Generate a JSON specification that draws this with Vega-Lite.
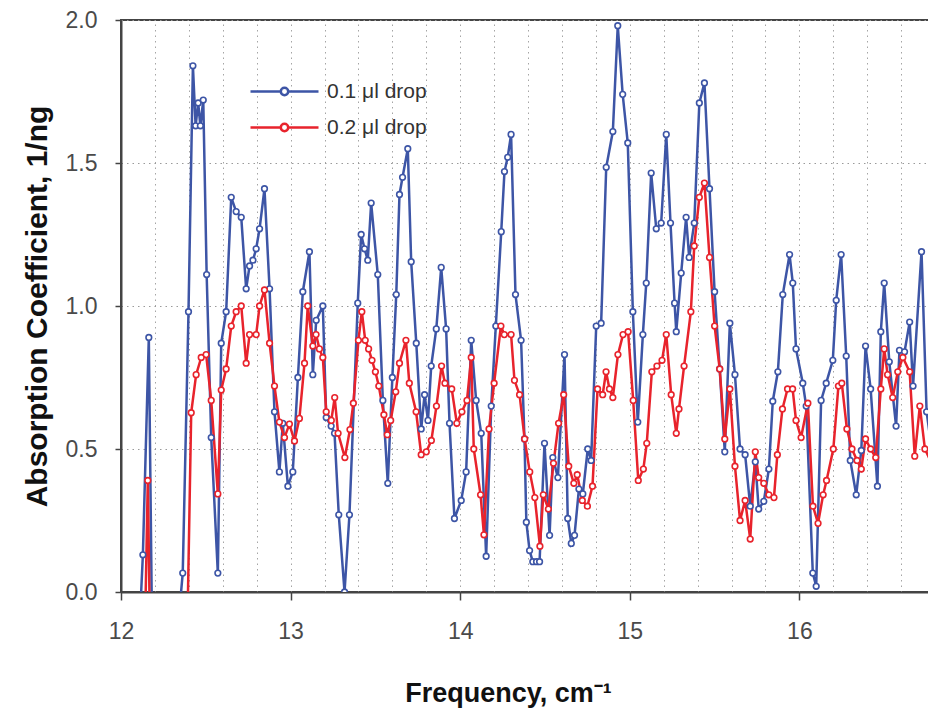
{
  "$schema": "https://vega.github.io/schema/vega-lite/v6.json",
  "width": 809,
  "height": 572,
  "autosize": {"type": "none"},
  "padding": {"left": 121, "top": 20, "right": 0, "bottom": 123},
  "background": "white",
  "config": {
    "view": {"stroke": "#444", "strokeWidth": 2},
    "font": "Liberation Sans, Arial, sans-serif"
  },
  "datasets": {
    "spec": [
      {"f": 12.08, "v": -0.5, "s": "0.1 μl drop"},
      {"f": 12.129, "v": 0.13, "s": "0.1 μl drop"},
      {"f": 12.164, "v": 0.89, "s": "0.1 μl drop"},
      {"f": 12.19, "v": -0.5, "s": "0.1 μl drop"},
      {"f": 12.28, "v": -0.5, "s": "0.1 μl drop"},
      {"f": 12.364, "v": 0.066, "s": "0.1 μl drop"},
      {"f": 12.398, "v": 0.98, "s": "0.1 μl drop"},
      {"f": 12.424, "v": 1.84, "s": "0.1 μl drop"},
      {"f": 12.44, "v": 1.63, "s": "0.1 μl drop"},
      {"f": 12.455, "v": 1.71, "s": "0.1 μl drop"},
      {"f": 12.468, "v": 1.63, "s": "0.1 μl drop"},
      {"f": 12.485, "v": 1.72, "s": "0.1 μl drop"},
      {"f": 12.505, "v": 1.11, "s": "0.1 μl drop"},
      {"f": 12.532, "v": 0.54, "s": "0.1 μl drop"},
      {"f": 12.571, "v": 0.066, "s": "0.1 μl drop"},
      {"f": 12.591, "v": 0.87, "s": "0.1 μl drop"},
      {"f": 12.62, "v": 0.98, "s": "0.1 μl drop"},
      {"f": 12.65, "v": 1.38, "s": "0.1 μl drop"},
      {"f": 12.679, "v": 1.33, "s": "0.1 μl drop"},
      {"f": 12.709, "v": 1.31, "s": "0.1 μl drop"},
      {"f": 12.738, "v": 1.06, "s": "0.1 μl drop"},
      {"f": 12.758, "v": 1.14, "s": "0.1 μl drop"},
      {"f": 12.778, "v": 1.16, "s": "0.1 μl drop"},
      {"f": 12.797, "v": 1.2, "s": "0.1 μl drop"},
      {"f": 12.817, "v": 1.27, "s": "0.1 μl drop"},
      {"f": 12.846, "v": 1.41, "s": "0.1 μl drop"},
      {"f": 12.876, "v": 1.06, "s": "0.1 μl drop"},
      {"f": 12.905, "v": 0.63, "s": "0.1 μl drop"},
      {"f": 12.934, "v": 0.42, "s": "0.1 μl drop"},
      {"f": 12.954, "v": 0.59, "s": "0.1 μl drop"},
      {"f": 12.984, "v": 0.37, "s": "0.1 μl drop"},
      {"f": 13.013, "v": 0.42, "s": "0.1 μl drop"},
      {"f": 13.043, "v": 0.75, "s": "0.1 μl drop"},
      {"f": 13.072, "v": 1.05, "s": "0.1 μl drop"},
      {"f": 13.111, "v": 1.19, "s": "0.1 μl drop"},
      {"f": 13.131, "v": 0.76, "s": "0.1 μl drop"},
      {"f": 13.151, "v": 0.95, "s": "0.1 μl drop"},
      {"f": 13.19, "v": 1.0, "s": "0.1 μl drop"},
      {"f": 13.21, "v": 0.61, "s": "0.1 μl drop"},
      {"f": 13.239, "v": 0.58, "s": "0.1 μl drop"},
      {"f": 13.259, "v": 0.555, "s": "0.1 μl drop"},
      {"f": 13.284, "v": 0.27, "s": "0.1 μl drop"},
      {"f": 13.318, "v": 0.0, "s": "0.1 μl drop"},
      {"f": 13.347, "v": 0.27, "s": "0.1 μl drop"},
      {"f": 13.396, "v": 1.01, "s": "0.1 μl drop"},
      {"f": 13.416, "v": 1.25, "s": "0.1 μl drop"},
      {"f": 13.436, "v": 1.2, "s": "0.1 μl drop"},
      {"f": 13.455, "v": 1.16, "s": "0.1 μl drop"},
      {"f": 13.475, "v": 1.36, "s": "0.1 μl drop"},
      {"f": 13.514, "v": 1.11, "s": "0.1 μl drop"},
      {"f": 13.544, "v": 0.67, "s": "0.1 μl drop"},
      {"f": 13.573, "v": 0.38, "s": "0.1 μl drop"},
      {"f": 13.6, "v": 0.75, "s": "0.1 μl drop"},
      {"f": 13.623, "v": 1.04, "s": "0.1 μl drop"},
      {"f": 13.642, "v": 1.39, "s": "0.1 μl drop"},
      {"f": 13.66, "v": 1.45, "s": "0.1 μl drop"},
      {"f": 13.691, "v": 1.55, "s": "0.1 μl drop"},
      {"f": 13.711, "v": 1.155, "s": "0.1 μl drop"},
      {"f": 13.741, "v": 0.87, "s": "0.1 μl drop"},
      {"f": 13.77, "v": 0.57, "s": "0.1 μl drop"},
      {"f": 13.79, "v": 0.69, "s": "0.1 μl drop"},
      {"f": 13.81, "v": 0.6, "s": "0.1 μl drop"},
      {"f": 13.829, "v": 0.79, "s": "0.1 μl drop"},
      {"f": 13.859, "v": 0.92, "s": "0.1 μl drop"},
      {"f": 13.888, "v": 1.135, "s": "0.1 μl drop"},
      {"f": 13.917, "v": 0.92, "s": "0.1 μl drop"},
      {"f": 13.937, "v": 0.59, "s": "0.1 μl drop"},
      {"f": 13.966, "v": 0.257, "s": "0.1 μl drop"},
      {"f": 14.006, "v": 0.32, "s": "0.1 μl drop"},
      {"f": 14.035, "v": 0.42, "s": "0.1 μl drop"},
      {"f": 14.065, "v": 0.88, "s": "0.1 μl drop"},
      {"f": 14.094, "v": 0.67, "s": "0.1 μl drop"},
      {"f": 14.124, "v": 0.555, "s": "0.1 μl drop"},
      {"f": 14.153, "v": 0.125, "s": "0.1 μl drop"},
      {"f": 14.183, "v": 0.65, "s": "0.1 μl drop"},
      {"f": 14.21, "v": 0.93, "s": "0.1 μl drop"},
      {"f": 14.242, "v": 1.26, "s": "0.1 μl drop"},
      {"f": 14.261, "v": 1.47, "s": "0.1 μl drop"},
      {"f": 14.28, "v": 1.52, "s": "0.1 μl drop"},
      {"f": 14.3, "v": 1.6, "s": "0.1 μl drop"},
      {"f": 14.326, "v": 1.04, "s": "0.1 μl drop"},
      {"f": 14.359, "v": 0.88, "s": "0.1 μl drop"},
      {"f": 14.379, "v": 0.535, "s": "0.1 μl drop"},
      {"f": 14.39, "v": 0.244, "s": "0.1 μl drop"},
      {"f": 14.409, "v": 0.145, "s": "0.1 μl drop"},
      {"f": 14.428, "v": 0.106, "s": "0.1 μl drop"},
      {"f": 14.45, "v": 0.106, "s": "0.1 μl drop"},
      {"f": 14.468, "v": 0.106, "s": "0.1 μl drop"},
      {"f": 14.497, "v": 0.52, "s": "0.1 μl drop"},
      {"f": 14.527, "v": 0.198, "s": "0.1 μl drop"},
      {"f": 14.546, "v": 0.47, "s": "0.1 μl drop"},
      {"f": 14.576, "v": 0.4, "s": "0.1 μl drop"},
      {"f": 14.615, "v": 0.83, "s": "0.1 μl drop"},
      {"f": 14.634, "v": 0.257, "s": "0.1 μl drop"},
      {"f": 14.655, "v": 0.17, "s": "0.1 μl drop"},
      {"f": 14.674, "v": 0.198, "s": "0.1 μl drop"},
      {"f": 14.7, "v": 0.36, "s": "0.1 μl drop"},
      {"f": 14.723, "v": 0.343, "s": "0.1 μl drop"},
      {"f": 14.752, "v": 0.5, "s": "0.1 μl drop"},
      {"f": 14.772, "v": 0.46, "s": "0.1 μl drop"},
      {"f": 14.802, "v": 0.93, "s": "0.1 μl drop"},
      {"f": 14.831, "v": 0.94, "s": "0.1 μl drop"},
      {"f": 14.861, "v": 1.485, "s": "0.1 μl drop"},
      {"f": 14.9, "v": 1.61, "s": "0.1 μl drop"},
      {"f": 14.929, "v": 1.98, "s": "0.1 μl drop"},
      {"f": 14.958, "v": 1.74, "s": "0.1 μl drop"},
      {"f": 14.988, "v": 1.57, "s": "0.1 μl drop"},
      {"f": 15.018, "v": 0.98, "s": "0.1 μl drop"},
      {"f": 15.047, "v": 0.594, "s": "0.1 μl drop"},
      {"f": 15.077, "v": 0.9, "s": "0.1 μl drop"},
      {"f": 15.097, "v": 1.08, "s": "0.1 μl drop"},
      {"f": 15.126, "v": 1.465, "s": "0.1 μl drop"},
      {"f": 15.156, "v": 1.27, "s": "0.1 μl drop"},
      {"f": 15.185, "v": 1.29, "s": "0.1 μl drop"},
      {"f": 15.215, "v": 1.6, "s": "0.1 μl drop"},
      {"f": 15.24, "v": 1.29, "s": "0.1 μl drop"},
      {"f": 15.264, "v": 1.01, "s": "0.1 μl drop"},
      {"f": 15.274, "v": 0.91, "s": "0.1 μl drop"},
      {"f": 15.303, "v": 1.115, "s": "0.1 μl drop"},
      {"f": 15.332, "v": 1.31, "s": "0.1 μl drop"},
      {"f": 15.35, "v": 1.17, "s": "0.1 μl drop"},
      {"f": 15.38, "v": 1.29, "s": "0.1 μl drop"},
      {"f": 15.41, "v": 1.71, "s": "0.1 μl drop"},
      {"f": 15.44, "v": 1.78, "s": "0.1 μl drop"},
      {"f": 15.47, "v": 1.41, "s": "0.1 μl drop"},
      {"f": 15.5, "v": 1.05, "s": "0.1 μl drop"},
      {"f": 15.53, "v": 0.78, "s": "0.1 μl drop"},
      {"f": 15.56, "v": 0.49, "s": "0.1 μl drop"},
      {"f": 15.59, "v": 0.94, "s": "0.1 μl drop"},
      {"f": 15.62, "v": 0.76, "s": "0.1 μl drop"},
      {"f": 15.65, "v": 0.5, "s": "0.1 μl drop"},
      {"f": 15.68, "v": 0.48, "s": "0.1 μl drop"},
      {"f": 15.71, "v": 0.3, "s": "0.1 μl drop"},
      {"f": 15.74, "v": 0.455, "s": "0.1 μl drop"},
      {"f": 15.76, "v": 0.29, "s": "0.1 μl drop"},
      {"f": 15.79, "v": 0.317, "s": "0.1 μl drop"},
      {"f": 15.82, "v": 0.43, "s": "0.1 μl drop"},
      {"f": 15.843, "v": 0.667, "s": "0.1 μl drop"},
      {"f": 15.873, "v": 0.77, "s": "0.1 μl drop"},
      {"f": 15.902, "v": 1.04, "s": "0.1 μl drop"},
      {"f": 15.942, "v": 1.18, "s": "0.1 μl drop"},
      {"f": 15.961, "v": 1.08, "s": "0.1 μl drop"},
      {"f": 15.98, "v": 0.85, "s": "0.1 μl drop"},
      {"f": 16.02, "v": 0.73, "s": "0.1 μl drop"},
      {"f": 16.04, "v": 0.65, "s": "0.1 μl drop"},
      {"f": 16.079, "v": 0.066, "s": "0.1 μl drop"},
      {"f": 16.099, "v": 0.02, "s": "0.1 μl drop"},
      {"f": 16.128, "v": 0.67, "s": "0.1 μl drop"},
      {"f": 16.158, "v": 0.73, "s": "0.1 μl drop"},
      {"f": 16.197, "v": 0.81, "s": "0.1 μl drop"},
      {"f": 16.217, "v": 1.02, "s": "0.1 μl drop"},
      {"f": 16.246, "v": 1.18, "s": "0.1 μl drop"},
      {"f": 16.276, "v": 0.825, "s": "0.1 μl drop"},
      {"f": 16.3, "v": 0.46, "s": "0.1 μl drop"},
      {"f": 16.335, "v": 0.34, "s": "0.1 μl drop"},
      {"f": 16.365, "v": 0.495, "s": "0.1 μl drop"},
      {"f": 16.39, "v": 0.86, "s": "0.1 μl drop"},
      {"f": 16.42, "v": 0.71, "s": "0.1 μl drop"},
      {"f": 16.46, "v": 0.37, "s": "0.1 μl drop"},
      {"f": 16.48, "v": 0.91, "s": "0.1 μl drop"},
      {"f": 16.5, "v": 1.08, "s": "0.1 μl drop"},
      {"f": 16.53, "v": 0.805, "s": "0.1 μl drop"},
      {"f": 16.57, "v": 0.58, "s": "0.1 μl drop"},
      {"f": 16.59, "v": 0.845, "s": "0.1 μl drop"},
      {"f": 16.62, "v": 0.84, "s": "0.1 μl drop"},
      {"f": 16.65, "v": 0.944, "s": "0.1 μl drop"},
      {"f": 16.67, "v": 0.72, "s": "0.1 μl drop"},
      {"f": 16.72, "v": 1.19, "s": "0.1 μl drop"},
      {"f": 16.75, "v": 0.63, "s": "0.1 μl drop"},
      {"f": 16.78, "v": 0.5, "s": "0.1 μl drop"},

      {"f": 12.13, "v": -0.5, "s": "0.2 μl drop"},
      {"f": 12.158, "v": 0.39, "s": "0.2 μl drop"},
      {"f": 12.18, "v": -0.5, "s": "0.2 μl drop"},
      {"f": 12.38, "v": -0.5, "s": "0.2 μl drop"},
      {"f": 12.414, "v": 0.627, "s": "0.2 μl drop"},
      {"f": 12.443, "v": 0.76, "s": "0.2 μl drop"},
      {"f": 12.473, "v": 0.82, "s": "0.2 μl drop"},
      {"f": 12.502, "v": 0.83, "s": "0.2 μl drop"},
      {"f": 12.532, "v": 0.67, "s": "0.2 μl drop"},
      {"f": 12.571, "v": 0.343, "s": "0.2 μl drop"},
      {"f": 12.591, "v": 0.706, "s": "0.2 μl drop"},
      {"f": 12.62, "v": 0.78, "s": "0.2 μl drop"},
      {"f": 12.65, "v": 0.93, "s": "0.2 μl drop"},
      {"f": 12.679, "v": 0.98, "s": "0.2 μl drop"},
      {"f": 12.709, "v": 1.0, "s": "0.2 μl drop"},
      {"f": 12.738, "v": 0.8, "s": "0.2 μl drop"},
      {"f": 12.758, "v": 0.9, "s": "0.2 μl drop"},
      {"f": 12.797, "v": 0.9, "s": "0.2 μl drop"},
      {"f": 12.817, "v": 1.0, "s": "0.2 μl drop"},
      {"f": 12.846, "v": 1.056, "s": "0.2 μl drop"},
      {"f": 12.876, "v": 0.87, "s": "0.2 μl drop"},
      {"f": 12.905, "v": 0.72, "s": "0.2 μl drop"},
      {"f": 12.934, "v": 0.594, "s": "0.2 μl drop"},
      {"f": 12.964, "v": 0.54, "s": "0.2 μl drop"},
      {"f": 12.993, "v": 0.587, "s": "0.2 μl drop"},
      {"f": 13.023, "v": 0.528, "s": "0.2 μl drop"},
      {"f": 13.052, "v": 0.607, "s": "0.2 μl drop"},
      {"f": 13.082, "v": 0.8, "s": "0.2 μl drop"},
      {"f": 13.101, "v": 1.0, "s": "0.2 μl drop"},
      {"f": 13.131, "v": 0.86, "s": "0.2 μl drop"},
      {"f": 13.15, "v": 0.9, "s": "0.2 μl drop"},
      {"f": 13.17, "v": 0.85, "s": "0.2 μl drop"},
      {"f": 13.19, "v": 0.82, "s": "0.2 μl drop"},
      {"f": 13.21, "v": 0.63, "s": "0.2 μl drop"},
      {"f": 13.24, "v": 0.6, "s": "0.2 μl drop"},
      {"f": 13.26, "v": 0.68, "s": "0.2 μl drop"},
      {"f": 13.28, "v": 0.555, "s": "0.2 μl drop"},
      {"f": 13.32, "v": 0.47, "s": "0.2 μl drop"},
      {"f": 13.35, "v": 0.568, "s": "0.2 μl drop"},
      {"f": 13.37, "v": 0.66, "s": "0.2 μl drop"},
      {"f": 13.4, "v": 0.88, "s": "0.2 μl drop"},
      {"f": 13.42, "v": 0.98, "s": "0.2 μl drop"},
      {"f": 13.44, "v": 0.88, "s": "0.2 μl drop"},
      {"f": 13.46, "v": 0.85, "s": "0.2 μl drop"},
      {"f": 13.48, "v": 0.81, "s": "0.2 μl drop"},
      {"f": 13.5, "v": 0.77, "s": "0.2 μl drop"},
      {"f": 13.52, "v": 0.72, "s": "0.2 μl drop"},
      {"f": 13.55, "v": 0.62, "s": "0.2 μl drop"},
      {"f": 13.57, "v": 0.55, "s": "0.2 μl drop"},
      {"f": 13.59, "v": 0.6, "s": "0.2 μl drop"},
      {"f": 13.62, "v": 0.7, "s": "0.2 μl drop"},
      {"f": 13.642, "v": 0.8, "s": "0.2 μl drop"},
      {"f": 13.68, "v": 0.88, "s": "0.2 μl drop"},
      {"f": 13.7, "v": 0.73, "s": "0.2 μl drop"},
      {"f": 13.74, "v": 0.63, "s": "0.2 μl drop"},
      {"f": 13.77, "v": 0.48, "s": "0.2 μl drop"},
      {"f": 13.8, "v": 0.49, "s": "0.2 μl drop"},
      {"f": 13.83, "v": 0.53, "s": "0.2 μl drop"},
      {"f": 13.86, "v": 0.65, "s": "0.2 μl drop"},
      {"f": 13.89, "v": 0.79, "s": "0.2 μl drop"},
      {"f": 13.91, "v": 0.73, "s": "0.2 μl drop"},
      {"f": 13.95, "v": 0.71, "s": "0.2 μl drop"},
      {"f": 13.98, "v": 0.59, "s": "0.2 μl drop"},
      {"f": 14.01, "v": 0.63, "s": "0.2 μl drop"},
      {"f": 14.04, "v": 0.67, "s": "0.2 μl drop"},
      {"f": 14.065, "v": 0.82, "s": "0.2 μl drop"},
      {"f": 14.08, "v": 0.5, "s": "0.2 μl drop"},
      {"f": 14.12, "v": 0.34, "s": "0.2 μl drop"},
      {"f": 14.14, "v": 0.2, "s": "0.2 μl drop"},
      {"f": 14.17, "v": 0.57, "s": "0.2 μl drop"},
      {"f": 14.2, "v": 0.73, "s": "0.2 μl drop"},
      {"f": 14.24, "v": 0.93, "s": "0.2 μl drop"},
      {"f": 14.26, "v": 0.9, "s": "0.2 μl drop"},
      {"f": 14.3, "v": 0.9, "s": "0.2 μl drop"},
      {"f": 14.32, "v": 0.74, "s": "0.2 μl drop"},
      {"f": 14.35, "v": 0.69, "s": "0.2 μl drop"},
      {"f": 14.38, "v": 0.535, "s": "0.2 μl drop"},
      {"f": 14.41, "v": 0.42, "s": "0.2 μl drop"},
      {"f": 14.44, "v": 0.33, "s": "0.2 μl drop"},
      {"f": 14.47, "v": 0.16, "s": "0.2 μl drop"},
      {"f": 14.49, "v": 0.34, "s": "0.2 μl drop"},
      {"f": 14.52, "v": 0.29, "s": "0.2 μl drop"},
      {"f": 14.55, "v": 0.45, "s": "0.2 μl drop"},
      {"f": 14.58, "v": 0.59, "s": "0.2 μl drop"},
      {"f": 14.61, "v": 0.69, "s": "0.2 μl drop"},
      {"f": 14.64, "v": 0.44, "s": "0.2 μl drop"},
      {"f": 14.67, "v": 0.38, "s": "0.2 μl drop"},
      {"f": 14.69, "v": 0.41, "s": "0.2 μl drop"},
      {"f": 14.72, "v": 0.32, "s": "0.2 μl drop"},
      {"f": 14.75, "v": 0.3, "s": "0.2 μl drop"},
      {"f": 14.78, "v": 0.37, "s": "0.2 μl drop"},
      {"f": 14.81, "v": 0.71, "s": "0.2 μl drop"},
      {"f": 14.84, "v": 0.69, "s": "0.2 μl drop"},
      {"f": 14.86, "v": 0.77, "s": "0.2 μl drop"},
      {"f": 14.88, "v": 0.71, "s": "0.2 μl drop"},
      {"f": 14.9, "v": 0.68, "s": "0.2 μl drop"},
      {"f": 14.93, "v": 0.83, "s": "0.2 μl drop"},
      {"f": 14.96, "v": 0.9, "s": "0.2 μl drop"},
      {"f": 14.99, "v": 0.91, "s": "0.2 μl drop"},
      {"f": 15.02, "v": 0.67, "s": "0.2 μl drop"},
      {"f": 15.05, "v": 0.39, "s": "0.2 μl drop"},
      {"f": 15.08, "v": 0.43, "s": "0.2 μl drop"},
      {"f": 15.1, "v": 0.52, "s": "0.2 μl drop"},
      {"f": 15.13, "v": 0.77, "s": "0.2 μl drop"},
      {"f": 15.16, "v": 0.79, "s": "0.2 μl drop"},
      {"f": 15.19, "v": 0.81, "s": "0.2 μl drop"},
      {"f": 15.215, "v": 0.9, "s": "0.2 μl drop"},
      {"f": 15.244, "v": 0.69, "s": "0.2 μl drop"},
      {"f": 15.274, "v": 0.555, "s": "0.2 μl drop"},
      {"f": 15.29, "v": 0.64, "s": "0.2 μl drop"},
      {"f": 15.32, "v": 0.79, "s": "0.2 μl drop"},
      {"f": 15.36, "v": 0.98, "s": "0.2 μl drop"},
      {"f": 15.38, "v": 1.21, "s": "0.2 μl drop"},
      {"f": 15.41, "v": 1.38, "s": "0.2 μl drop"},
      {"f": 15.44, "v": 1.43, "s": "0.2 μl drop"},
      {"f": 15.47, "v": 1.17, "s": "0.2 μl drop"},
      {"f": 15.5, "v": 0.93, "s": "0.2 μl drop"},
      {"f": 15.53, "v": 0.78, "s": "0.2 μl drop"},
      {"f": 15.56, "v": 0.535, "s": "0.2 μl drop"},
      {"f": 15.59, "v": 0.71, "s": "0.2 μl drop"},
      {"f": 15.62, "v": 0.44, "s": "0.2 μl drop"},
      {"f": 15.65, "v": 0.25, "s": "0.2 μl drop"},
      {"f": 15.68, "v": 0.32, "s": "0.2 μl drop"},
      {"f": 15.71, "v": 0.185, "s": "0.2 μl drop"},
      {"f": 15.74, "v": 0.49, "s": "0.2 μl drop"},
      {"f": 15.76, "v": 0.4, "s": "0.2 μl drop"},
      {"f": 15.79, "v": 0.38, "s": "0.2 μl drop"},
      {"f": 15.82, "v": 0.34, "s": "0.2 μl drop"},
      {"f": 15.85, "v": 0.33, "s": "0.2 μl drop"},
      {"f": 15.87, "v": 0.48, "s": "0.2 μl drop"},
      {"f": 15.9, "v": 0.64, "s": "0.2 μl drop"},
      {"f": 15.93, "v": 0.71, "s": "0.2 μl drop"},
      {"f": 15.96, "v": 0.71, "s": "0.2 μl drop"},
      {"f": 15.98, "v": 0.6, "s": "0.2 μl drop"},
      {"f": 16.01, "v": 0.54, "s": "0.2 μl drop"},
      {"f": 16.05, "v": 0.66, "s": "0.2 μl drop"},
      {"f": 16.08, "v": 0.3, "s": "0.2 μl drop"},
      {"f": 16.11, "v": 0.24, "s": "0.2 μl drop"},
      {"f": 16.14, "v": 0.34, "s": "0.2 μl drop"},
      {"f": 16.16, "v": 0.39, "s": "0.2 μl drop"},
      {"f": 16.2, "v": 0.5, "s": "0.2 μl drop"},
      {"f": 16.23, "v": 0.72, "s": "0.2 μl drop"},
      {"f": 16.25, "v": 0.73, "s": "0.2 μl drop"},
      {"f": 16.28, "v": 0.57, "s": "0.2 μl drop"},
      {"f": 16.31, "v": 0.5, "s": "0.2 μl drop"},
      {"f": 16.34, "v": 0.46, "s": "0.2 μl drop"},
      {"f": 16.365, "v": 0.43, "s": "0.2 μl drop"},
      {"f": 16.39, "v": 0.535, "s": "0.2 μl drop"},
      {"f": 16.42, "v": 0.5, "s": "0.2 μl drop"},
      {"f": 16.45, "v": 0.47, "s": "0.2 μl drop"},
      {"f": 16.48, "v": 0.71, "s": "0.2 μl drop"},
      {"f": 16.5, "v": 0.85, "s": "0.2 μl drop"},
      {"f": 16.52, "v": 0.76, "s": "0.2 μl drop"},
      {"f": 16.55, "v": 0.68, "s": "0.2 μl drop"},
      {"f": 16.58, "v": 0.77, "s": "0.2 μl drop"},
      {"f": 16.61, "v": 0.82, "s": "0.2 μl drop"},
      {"f": 16.65, "v": 0.77, "s": "0.2 μl drop"},
      {"f": 16.68, "v": 0.475, "s": "0.2 μl drop"},
      {"f": 16.71, "v": 0.65, "s": "0.2 μl drop"},
      {"f": 16.74, "v": 0.5, "s": "0.2 μl drop"},
      {"f": 16.78, "v": 0.45, "s": "0.2 μl drop"}
    ]
  },
  "data": {"name": "spec"},
  "encoding": {
    "y": {
      "field": "v",
      "type": "quantitative",
      "scale": {"domain": [0, 2], "nice": false, "zero": false},
      "axis": {
        "values": [0, 0.5, 1, 1.5, 2],
        "format": ".1f",
        "grid": true,
        "gridDash": [1.5, 4],
        "gridColor": "#9a9a9a",
        "gridWidth": 1,
        "domainColor": "#444",
        "domainWidth": 2,
        "tickColor": "#444",
        "tickSize": 6,
        "tickWidth": 1.5,
        "labelFontSize": 23,
        "labelColor": "#4a4a4a",
        "labelPadding": 18,
        "labelFlush": false,
        "title": "Absorption Coefficient, 1/ng",
        "titleFontSize": 30,
        "titleFontWeight": "bold",
        "titleColor": "#111",
        "titlePadding": 13
      }
    },
    "color": {
      "field": "s",
      "type": "nominal",
      "scale": {"domain": ["0.1 μl drop", "0.2 μl drop"], "range": ["#3d55a6", "#e8232c"]},
      "legend": {
        "orient": "none",
        "legendX": 153,
        "legendY": 61,
        "title": null,
        "padding": 0,
        "symbolType": "M-6.8,0 L-0.74,0 M0.74,0 L6.8,0 M0.74,0 A0.74,0.74 0 1 1 -0.74,0 A0.74,0.74 0 1 1 0.74,0",
        "symbolSize": 100,
        "symbolStrokeWidth": 2.5,
        "symbolFillColor": "white",
        "labelFontSize": 21,
        "labelColor": "#333",
        "labelOffset": 32,
        "rowPadding": 14
      }
    }
  },
  "layer": [
    {
      "mark": {"type": "line", "strokeWidth": 2.5, "clip": true},
      "encoding": {
        "x": {
          "field": "f",
          "type": "quantitative",
          "scale": {"domain": [12, 16.77], "nice": false, "zero": false},
          "axis": {
            "values": [12, 13, 14, 15, 16],
            "format": "d",
            "grid": false,
            "labelFlush": false,
            "domainColor": "#444",
            "domainWidth": 2,
            "tickColor": "#444",
            "tickSize": 8,
            "tickWidth": 1.5,
            "labelFontSize": 23,
            "labelColor": "#4a4a4a",
            "labelPadding": 20,
            "title": "Frequency, cm⁻¹",
            "titleFontSize": 27,
            "titleFontWeight": "bold",
            "titleColor": "#111",
            "titlePadding": 37,
            "titleX": 387,
            "titleAlign": "center",
            "titleAnchor": "start"
          }
        }
      }
    },
    {
      "mark": {"type": "point", "filled": false, "fill": "white", "size": 32, "strokeWidth": 1.6, "opacity": 1, "clip": true},
      "encoding": {
        "x": {
          "field": "f",
          "type": "quantitative",
          "scale": {"domain": [12, 16.77], "nice": false, "zero": false},
          "axis": {
            "orient": "top",
            "values": [12.2, 12.4, 12.6, 12.8, 13, 13.2, 13.4, 13.6, 13.8, 14, 14.2, 14.4, 14.6, 14.8, 15, 15.2, 15.4, 15.6, 15.8, 16, 16.2, 16.4, 16.6],
            "grid": true,
            "gridDash": [1.5, 4],
            "gridColor": "#a5a5a5",
            "labels": false,
            "ticks": false,
            "domain": false,
            "title": null
          }
        }
      }
    }
  ],
  "resolve": {"axis": {"x": "independent"}}
}
